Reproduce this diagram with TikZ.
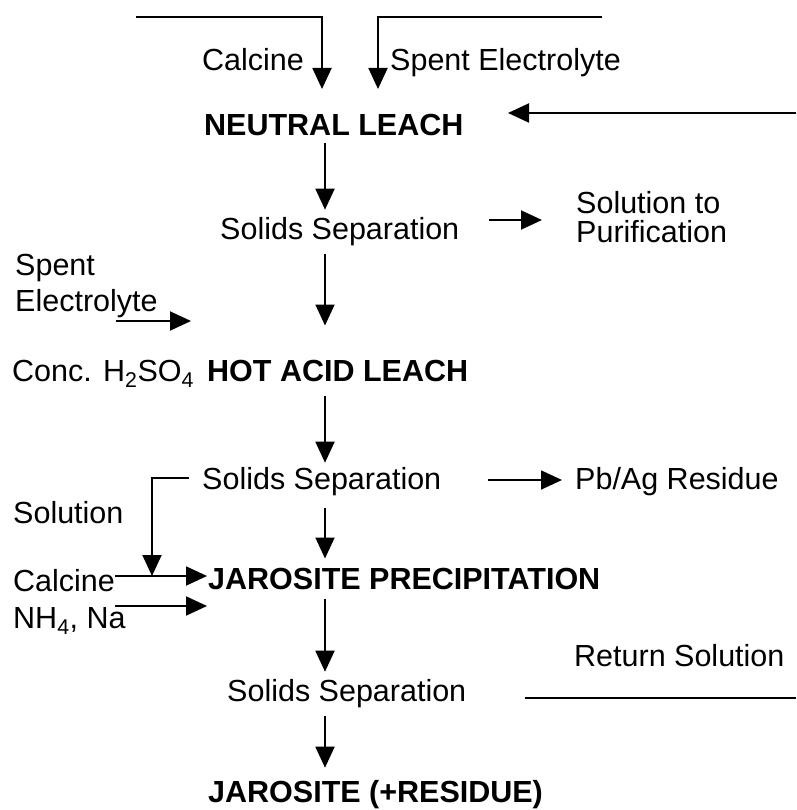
\documentclass[tikz,border=0pt]{standalone}
\usepackage{fontspec}
\setmainfont{Liberation Sans}
\usetikzlibrary{arrows.meta,calc}

\tikzset{
  lbl/.style={inner sep=0pt, anchor=base west, font=\fontsize{30.5}{36}\selectfont},
  stage/.style={inner sep=0pt, anchor=base west, font=\fontsize{30.5}{36}\selectfont\bfseries},
  flow/.style={line width=1.9pt},
  arr/.style={flow, -{Triangle[length=21pt,width=19pt]}},
}

\begin{document}
\begin{tikzpicture}[x=1pt,y=-1pt]
  \fill[white] (0,0) rectangle (796,810);
  \useasboundingbox (0,0) rectangle (796,810);

  % process stages and stream labels
  \node[lbl]   (calcA)  at (202,71)  {Calcine};
  \node[lbl]   (spentA) at (390,71)  {Spent Electrolyte};
  \node[stage] (nl)     at (204,136) {NEUTRAL LEACH};
  \node[lbl]   (ss1)    at (220,239) {Solids Separation};
  \node[lbl, anchor=north west, align=left, font=\fontsize{30.5}{29}\selectfont]
               (stp)    at (576,191) {Solution to\\Purification};
  \node[lbl, anchor=north west, align=left]
               (spentB) at (15,254)  {Spent\\Electrolyte};
  \node[lbl]   (conc)   at (12,381)  {Conc. H\textsubscript{2}SO\textsubscript{4}};
  \node[stage] (hal)    at (207,381) {HOT ACID LEACH};
  \node[lbl]   (ss2)    at (202,489) {Solids Separation};
  \node[lbl]   (pbag)   at (575,489) {Pb/Ag Residue};
  \node[lbl]   (solB)   at (13,523)  {Solution};
  \node[lbl]   (calcB)  at (13,591)  {Calcine};
  \node[stage] (jp)     at (208,589) {JAROSITE PRECIPITATION};
  \node[lbl]   (nhna)   at (13,628)  {NH\textsubscript{4}, Na};
  \node[lbl]   (retsol) at (574,666) {Return Solution};
  \node[lbl]   (ss3)    at (227,701) {Solids Separation};
  \node[stage] (jr)     at (208,802) {JAROSITE (+RESIDUE)};

  % main process axis
  \coordinate (axis) at (325,0);
  \draw[arr, shorten <=7pt,  shorten >=7pt]  (nl.south -| axis)  -- (ss1.north -| axis);
  \draw[arr, shorten <=8pt,  shorten >=34pt] (ss1.south -| axis) -- (hal.north -| axis);
  \draw[arr, shorten <=14pt, shorten >=4pt]  (hal.south -| axis) -- (ss2.north -| axis);
  \draw[arr, shorten <=12pt, shorten >=9pt]  (ss2.south -| axis) -- (jp.north -| axis);
  \draw[arr, shorten <=9pt,  shorten >=7pt]  (jp.south -| axis)  -- (ss3.north -| axis);
  \draw[arr, shorten <=8pt,  shorten >=12pt] (ss3.south -| axis) -- (jr.north -| axis);

  % feeds to the neutral leach
  \coordinate (feedA) at (136,17);
  \coordinate (dropA) at (322,89);
  \coordinate (feedB) at (602,17);
  \coordinate (dropB) at (378,89);
  \draw[arr] (feedA) -| (dropA);
  \draw[arr] (feedB) -| (dropB);

  % return solution into the neutral leach
  \coordinate (retIn)  at (796,113);
  \coordinate (retTip) at (508,113);
  \draw[arr] (retIn) -- (retTip);

  % solution to purification
  \coordinate (purA) at (489,220);
  \coordinate (purB) at (542,220);
  \draw[arr] (purA) -- (purB);

  % spent electrolyte to hot acid leach
  \coordinate (seA) at (116,321);
  \coordinate (seB) at (191,321);
  \draw[arr] (seA) -- (seB);

  % lead/silver residue
  \coordinate (pbA) at (488,480);
  \coordinate (pbB) at (562,480);
  \draw[arr] (pbA) -- (pbB);

  % solution branch to jarosite precipitation
  \coordinate (brA) at (189,478);
  \coordinate (brB) at (152,576);
  \draw[arr] (brA) -| (brB);

  % calcine and NH4/Na feeds
  \coordinate (caB) at (207,576);
  \draw[arr] (calcB.east |- caB) -- (caB);
  \coordinate (naA) at (115,606);
  \coordinate (naB) at (207,606);
  \draw[arr] (naA) -- (naB);

  % return solution line
  \coordinate (rsA) at (525,698);
  \coordinate (rsB) at (796,698);
  \draw[flow] (rsA) -- (rsB);
\end{tikzpicture}
\end{document}
